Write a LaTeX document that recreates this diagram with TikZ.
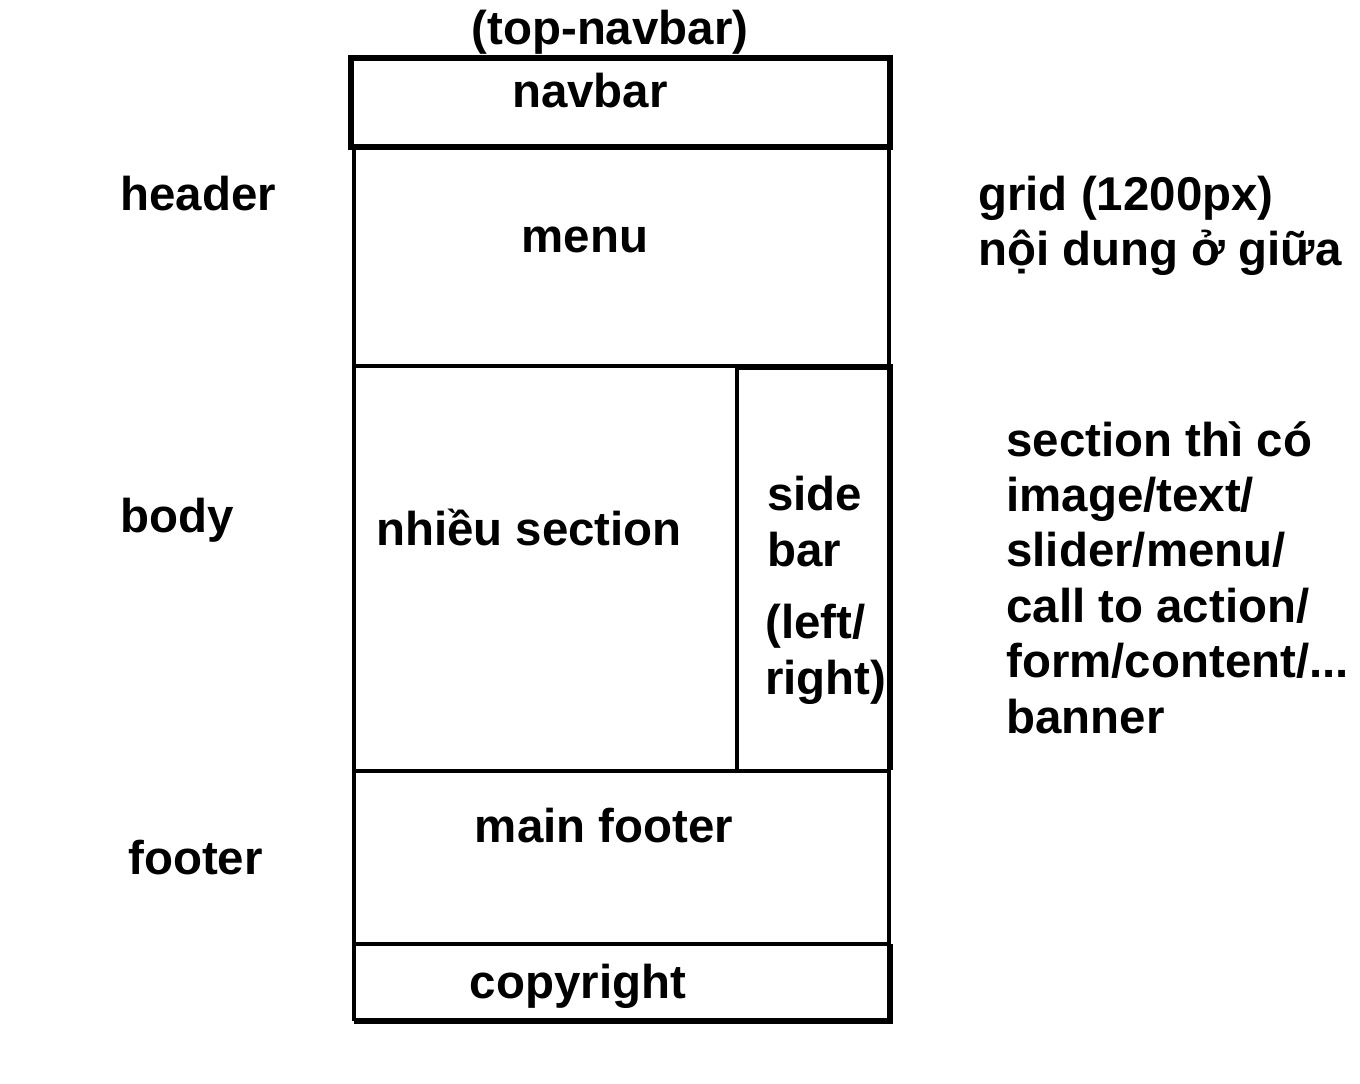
\documentclass[tikz,border=0pt]{standalone}
\usepackage{fontspec}
\setmainfont{Liberation Sans}
\usepackage{tikz}

\begin{document}
\begin{tikzpicture}[x=0.02cm, y=-0.02cm,
        lbl/.style={font=\bfseries\fontsize{27}{31.5}\selectfont, inner sep=0pt, anchor=base},
        lbll/.style={lbl, anchor=base west, align=left},
        thin line/.style={line width=2.3pt},
        thick line/.style={line width=3.6pt}
    ]
        \useasboundingbox (0,0) rectangle (1360,1084);

        % page frame
        \draw[thick line] (351,58) rectangle (890,147);
        \draw[thin line] (354,147) -- (354,1021);
        \draw[thin line] (889,147) -- (889,944);
        \draw[thin line] (354,366) -- (737,366);
        \draw[thick line] (737,367) -- (890,367) -- (890,770);
        \draw[thin line] (737,367) -- (737,770);
        \draw[thin line] (354,771) -- (890,771);
        \draw[thin line] (354,944) -- (890,944);
        \draw[thick line] (354,1021) -- (890,1021) -- (890,944);

        \node[lbl] (top) at (610,45) {(top-navbar)};
        \node[lbl] (navbar) at (590,108) {navbar};
        \node[lbl] (menu) at (585,253) {menu};
        \node[lbl] (sections) at (529,546) {nhiều section};
        % base of a multi-line node = last line
        \node[lbll] (side) at (767,566) {side\\bar};
        \node[lbll] (leftright) at (765,694) {(left/\\right)};
        \node[lbl] (mainfooter) at (604,842) {main footer};
        \node[lbl] (copyright) at (578,998) {copyright};

        \node[lbll] (header) at (120,211) {header};
        \node[lbll] (body) at (120,533) {body};
        \node[lbll] (footer) at (128,874) {footer};

        \node[lbll] (grid) at (978,266) {grid (1200px)\\nội dung ở giữa};
        \node[lbll] (content) at (1006,733) {section thì có\\image/text/\\slider/menu/\\call to action/\\form/content/...\\banner};
    \end{tikzpicture}
\end{document}
